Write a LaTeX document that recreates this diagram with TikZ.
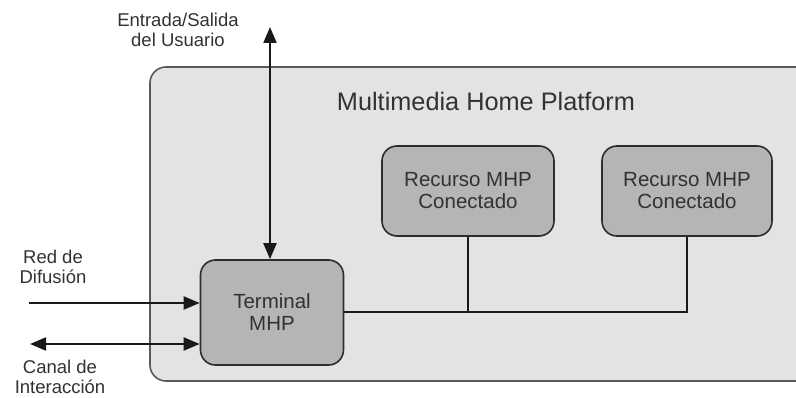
\documentclass[tikz,border=0pt]{standalone}
\usepackage{fontspec}
\setmainfont{Liberation Sans}
\usetikzlibrary{arrows.meta}
\definecolor{platformfill}{RGB}{226,227,229}
\definecolor{boxfill}{RGB}{181,181,183}
\definecolor{edge}{RGB}{45,45,45}
\definecolor{ink}{RGB}{50,50,50}
\tikzset{
  unitbox/.style={draw=edge, line width=1.6pt, fill=boxfill, rounded corners=15pt,
    align=center, text=ink, font=\fontsize{20.5}{22}\selectfont, inner sep=0pt},
  extlabel/.style={align=center, text=ink, font=\fontsize{18.5}{20.5}\selectfont, inner sep=0pt},
  link/.style={draw=black!90, line width=2pt},
  flow/.style={link, -{Triangle[length=16pt,width=13pt]}},
  bothflow/.style={link, {Triangle[length=16pt,width=13pt]}-{Triangle[length=16pt,width=13pt]}}
}
\begin{document}
\begin{tikzpicture}[x=1pt,y=-1pt]
  \useasboundingbox (0,0) rectangle (796,398);
  \clip (0,0) rectangle (796,398);
  \fill[white] (0,0) rectangle (796,398);

  % platform frame, running past the right edge
  \draw[draw=black!65, line width=1.6pt, fill=platformfill, rounded corners=16pt]
    (150,67) rectangle (830,381);
  \node[text=ink, font=\fontsize{25.3}{27}\selectfont, inner sep=0pt] (title) at (486,101)
    {Multimedia Home Platform};

  % components
  \node[unitbox, minimum width=143pt, minimum height=105pt] (term) at (272,312.5)
    {Terminal\\MHP};
  \node[unitbox, minimum width=172pt, minimum height=90pt] (res1) at (468,191)
    {Recurso MHP\\Conectado};
  \node[unitbox, minimum width=170pt, minimum height=90pt] (res2) at (687,191)
    {Recurso MHP\\Conectado};

  % internal bus
  \draw[link] (term.east) -- (res2.south |- term.east) -- (res2.south);
  \draw[link] (res1.south) -- (res1.south |- term.east);

  % external interfaces
  \coordinate (user) at (270,27);
  \coordinate (bcast) at (29,303);
  \coordinate (inter) at (30,344);
  \draw[bothflow] (user) -- (user |- term.north);
  \draw[flow] (bcast) -- (bcast -| term.west);
  \draw[bothflow] (inter) -- (inter -| term.west);

  \node[extlabel] (userlbl) at (178,30) {Entrada/Salida\\del Usuario};
  \node[extlabel] (bcastlbl) at (53,267) {Red de\\Difusión};
  \node[extlabel] (interlbl) at (60,377) {Canal de\\Interacción};
\end{tikzpicture}
\end{document}
